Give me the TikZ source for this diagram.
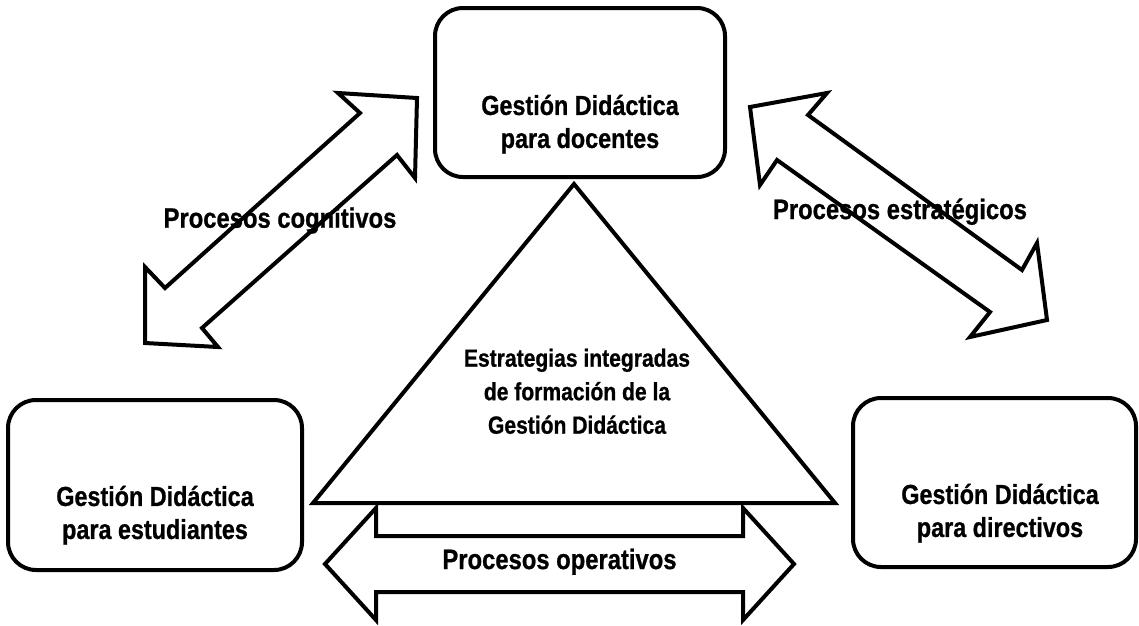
\documentclass[tikz,border=0pt]{standalone}
\usepackage{fontspec}
\setmainfont{Liberation Sans}[FakeStretch=0.85,BoldFeatures={FakeBold=0.8}]
\begin{document}
\begin{tikzpicture}[x=1pt,y=-1pt,
  panel/.style={draw=black, line width=4pt, rounded corners=28pt, inner sep=0pt},
  bigarrow/.style={draw=black, line width=4pt, line join=miter, fill=white},
  tri/.style={draw=black, line width=4pt, line join=miter},
  lbl/.style={inner sep=0pt, font=\bfseries\fontsize{28}{33}\selectfont},
  boxtxt/.style={align=center, inner sep=0pt, font=\bfseries\fontsize{27.5}{33}\selectfont},
  tritxt/.style={align=center, inner sep=0pt, font=\bfseries\fontsize{24.8}{33.5}\selectfont}]
\useasboundingbox (0,0) rectangle (1139,625);

% block arrows
\draw[bigarrow] (417,98) -- (415,178) -- (397,155) -- (202,328) -- (218,347)
  -- (145,343) -- (145,267) -- (165,288) -- (360,113) -- (338,93) -- cycle;
\draw[bigarrow] (750,107) -- (827,93) -- (808,115) -- (1022,270) -- (1037,243)
  -- (1047,320) -- (970,337) -- (990,312) -- (777,160) -- (760,185) -- cycle;
\draw[bigarrow] (325,564) -- (376,508) -- (376,536) -- (743,536) -- (743,508)
  -- (794,564) -- (743,620) -- (743,592) -- (376,592) -- (376,620) -- cycle;

% triangle
\draw[tri] (574,184) -- (313,503) -- (835,503) -- cycle;

% boxes
\node[panel, minimum width=290pt, minimum height=169pt] (doc) at (580,92.5) {};
\node[panel, minimum width=294pt, minimum height=170pt] (est) at (155,485) {};
\node[panel, minimum width=283pt, minimum height=169pt] (dir) at (994.5,482.5) {};

% texts
\node[boxtxt] (doct) at (580,124.2) {Gestión Didáctica\\para docentes};
\node[boxtxt] (estt) at (155,515.2) {Gestión Didáctica\\para estudiantes};
\node[boxtxt] (dirt) at (1000,513.2) {Gestión Didáctica\\para directivos};
\node[tritxt] (trit) at (577,391.3) {Estrategias integradas\\de formación de la\\Gestión Didáctica};
\node[lbl, anchor=base] (cog) at (280,227.7) {Procesos cognitivos};
\node[lbl, anchor=base] (estr) at (900,219) {Procesos estratégicos};
\node[lbl, anchor=base] (oper) at (559.5,569) {Procesos operativos};
\end{tikzpicture}
\end{document}
